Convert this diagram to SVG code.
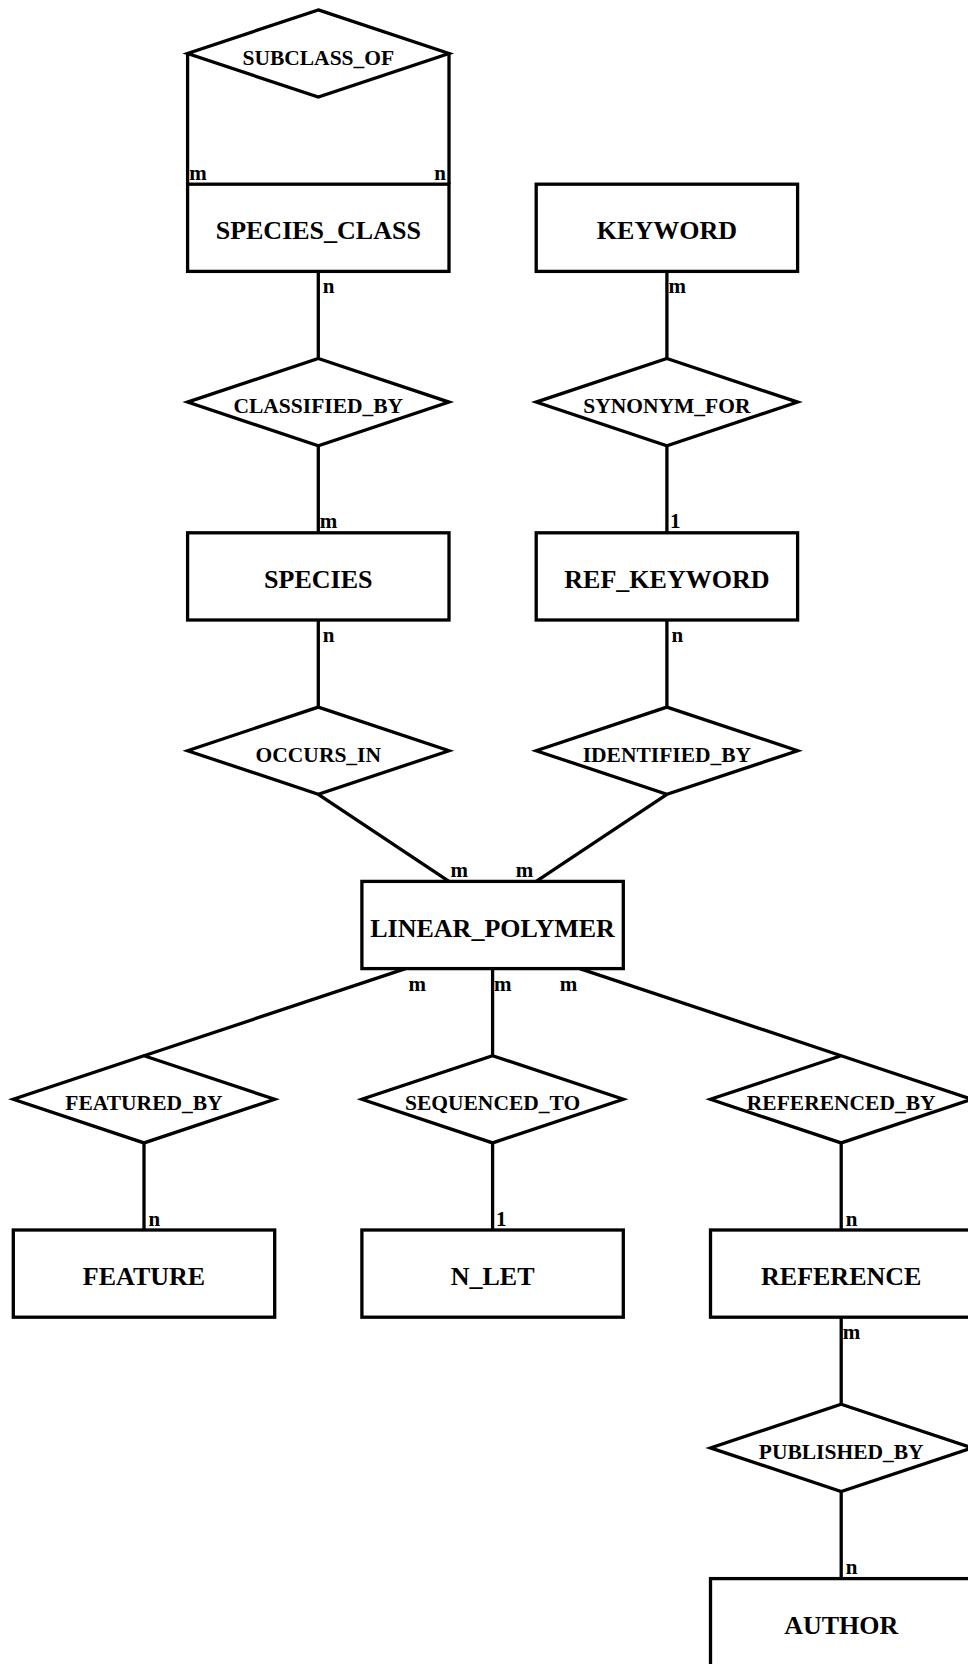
<svg xmlns="http://www.w3.org/2000/svg" width="968" height="1664" viewBox="0 0 968 1664">
<style>
.shape{fill:#fff;stroke:#000;stroke-width:3.3;stroke-linejoin:miter}
.edge{stroke:#000;stroke-width:3.3;fill:none}
text{font-family:"Liberation Serif","Times New Roman",serif;font-weight:bold;fill:#000}
.bl{font-size:26px;text-anchor:middle}
.dl{font-size:21.5px;text-anchor:middle}
.c{font-size:21px}
.e{text-anchor:end}
</style>
<rect width="968" height="1664" fill="#fff"/>
<g id="connectors">
<line class="edge" x1="187.6" y1="53.5" x2="187.6" y2="184.2"/>
<line class="edge" x1="449" y1="53.5" x2="449" y2="184.2"/>
<line class="edge" x1="318.3" y1="271.4" x2="318.3" y2="358.5"/>
<line class="edge" x1="318.3" y1="445.7" x2="318.3" y2="532.8"/>
<line class="edge" x1="318.3" y1="620" x2="318.3" y2="707.1"/>
<line class="edge" x1="666.9" y1="271.4" x2="666.9" y2="358.5"/>
<line class="edge" x1="666.9" y1="445.7" x2="666.9" y2="532.8"/>
<line class="edge" x1="666.9" y1="620" x2="666.9" y2="707.1"/>
<line class="edge" x1="318.3" y1="794.3" x2="449" y2="881.4"/>
<line class="edge" x1="666.9" y1="794.3" x2="536.2" y2="881.4"/>
<line class="edge" x1="405.5" y1="968.6" x2="144" y2="1055.7"/>
<line class="edge" x1="492.6" y1="968.6" x2="492.6" y2="1055.7"/>
<line class="edge" x1="579.7" y1="968.6" x2="841.2" y2="1055.7"/>
<line class="edge" x1="144" y1="1142.9" x2="144" y2="1230"/>
<line class="edge" x1="492.6" y1="1142.9" x2="492.6" y2="1230"/>
<line class="edge" x1="841.2" y1="1142.9" x2="841.2" y2="1230"/>
<line class="edge" x1="841.2" y1="1316.8" x2="841.2" y2="1404.3"/>
<line class="edge" x1="841.2" y1="1491.5" x2="841.2" y2="1578.6"/>
<text class="c" x="189.3" y="180">m</text>
<text class="c e" x="446" y="180">n</text>
<text class="c" x="322.8" y="293">n</text>
<text class="c" x="319.8" y="528.3">m</text>
<text class="c" x="322.8" y="641.5">n</text>
<text class="c" x="668.4" y="293">m</text>
<text class="c" x="669.9" y="528.3">1</text>
<text class="c" x="671.4" y="641.5">n</text>
<text class="c" x="450.6" y="876.9">m</text>
<text class="c e" x="533.2" y="876.9">m</text>
<text class="c" x="408.5" y="990.6">m</text>
<text class="c" x="494.1" y="990.6">m</text>
<text class="c e" x="577.3" y="990.6">m</text>
<text class="c" x="148.5" y="1225.5">n</text>
<text class="c" x="496" y="1225.5">1</text>
<text class="c" x="845.7" y="1225.5">n</text>
<text class="c" x="842.7" y="1338.6">m</text>
<text class="c" x="845.7" y="1574.1">n</text>
</g>
<g id="SUBCLASS_OF"><polygon class="shape" points="318.3,9.9 449,53.5 318.3,97.1 187.6,53.5"/><text class="dl" x="318.3" y="64.5">SUBCLASS_OF</text></g>
<g id="SPECIES_CLASS"><rect class="shape" x="187.6" y="184.2" width="261.4" height="87.2"/><text class="bl" x="318.3" y="239.3">SPECIES_CLASS</text></g>
<g id="KEYWORD"><rect class="shape" x="536.2" y="184.2" width="261.4" height="87.2"/><text class="bl" x="666.9" y="239.3">KEYWORD</text></g>
<g id="CLASSIFIED_BY"><polygon class="shape" points="318.3,358.5 449,402.1 318.3,445.7 187.6,402.1"/><text class="dl" x="318.3" y="413.1">CLASSIFIED_BY</text></g>
<g id="SYNONYM_FOR"><polygon class="shape" points="666.9,358.5 797.6,402.1 666.9,445.7 536.2,402.1"/><text class="dl" x="666.9" y="413.1">SYNONYM_FOR</text></g>
<g id="SPECIES"><rect class="shape" x="187.6" y="532.8" width="261.4" height="87.2"/><text class="bl" x="318.3" y="587.9">SPECIES</text></g>
<g id="REF_KEYWORD"><rect class="shape" x="536.2" y="532.8" width="261.4" height="87.2"/><text class="bl" x="666.9" y="587.9">REF_KEYWORD</text></g>
<g id="OCCURS_IN"><polygon class="shape" points="318.3,707.1 449,750.7 318.3,794.3 187.6,750.7"/><text class="dl" x="318.3" y="761.7">OCCURS_IN</text></g>
<g id="IDENTIFIED_BY"><polygon class="shape" points="666.9,707.1 797.6,750.7 666.9,794.3 536.2,750.7"/><text class="dl" x="666.9" y="761.7">IDENTIFIED_BY</text></g>
<g id="LINEAR_POLYMER"><rect class="shape" x="361.9" y="881.4" width="261.4" height="87.2"/><text class="bl" x="492.6" y="936.5">LINEAR_POLYMER</text></g>
<g id="FEATURED_BY"><polygon class="shape" points="144,1055.7 274.7,1099.3 144,1142.9 13.3,1099.3"/><text class="dl" x="144" y="1110.3">FEATURED_BY</text></g>
<g id="SEQUENCED_TO"><polygon class="shape" points="492.6,1055.7 623.3,1099.3 492.6,1142.9 361.9,1099.3"/><text class="dl" x="492.6" y="1110.3">SEQUENCED_TO</text></g>
<g id="REFERENCED_BY"><polygon class="shape" points="841.2,1055.7 971.9,1099.3 841.2,1142.9 710.5,1099.3"/><text class="dl" x="841.2" y="1110.3">REFERENCED_BY</text></g>
<g id="FEATURE"><rect class="shape" x="13.3" y="1230" width="261.4" height="87.2"/><text class="bl" x="144" y="1285.1">FEATURE</text></g>
<g id="N_LET"><rect class="shape" x="361.9" y="1230" width="261.4" height="87.2"/><text class="bl" x="492.6" y="1285.1">N_LET</text></g>
<g id="REFERENCE"><rect class="shape" x="710.5" y="1230" width="261.4" height="87.2"/><text class="bl" x="841.2" y="1285.1">REFERENCE</text></g>
<g id="PUBLISHED_BY"><polygon class="shape" points="841.2,1404.3 971.9,1447.9 841.2,1491.5 710.5,1447.9"/><text class="dl" x="841.2" y="1458.9">PUBLISHED_BY</text></g>
<g id="AUTHOR"><rect class="shape" x="710.5" y="1578.6" width="261.4" height="87.2"/><text class="bl" x="841.2" y="1633.7">AUTHOR</text></g>
</svg>
